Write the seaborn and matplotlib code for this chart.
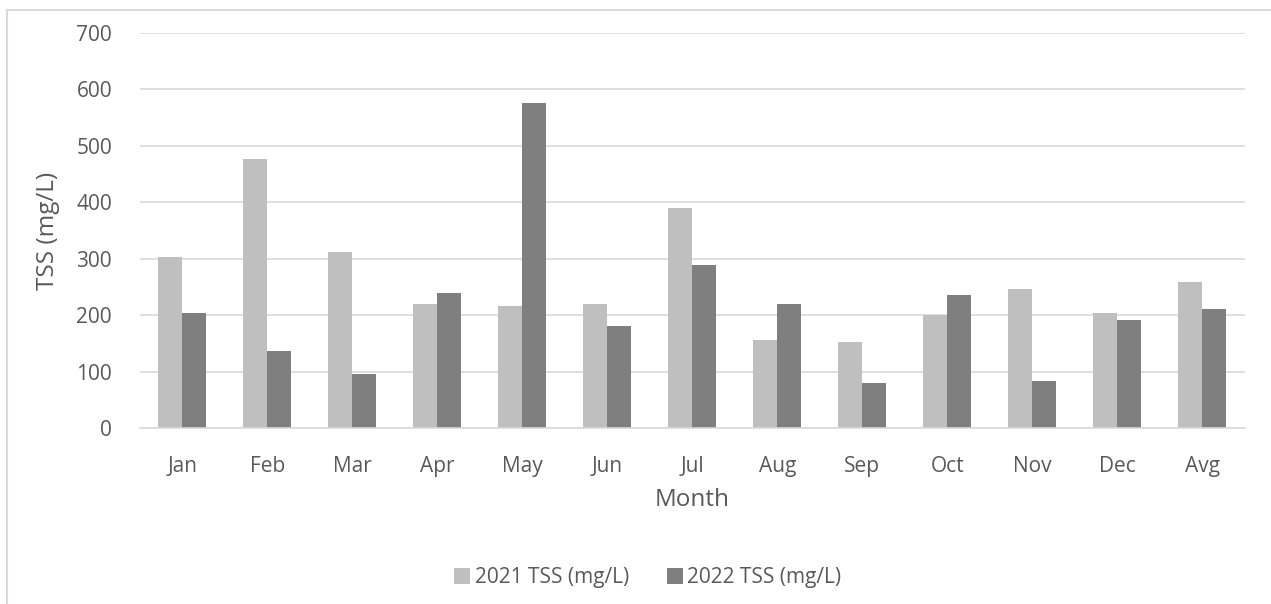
import pandas as pd
import seaborn as sns
import matplotlib.pyplot as plt
from matplotlib.lines import Line2D

# Monthly TSS values
months = ["Jan", "Feb", "Mar", "Apr", "May", "Jun", "Jul",
          "Aug", "Sep", "Oct", "Nov", "Dec", "Avg"]
tss_2021 = [303, 477, 312, 220, 217, 220, 390, 156, 152, 200, 247, 203, 258]
tss_2022 = [203, 137, 95, 240, 576, 181, 289, 220, 79, 235, 83, 191, 210]
series = ["2021 TSS (mg/L)", "2022 TSS (mg/L)"]
colors = ["#BFBFBF", "#7F7F7F"]

df = pd.DataFrame({"Month": months * 2,
                   "TSS": tss_2021 + tss_2022,
                   "Series": [series[0]] * len(months) + [series[1]] * len(months)})

sns.set_style("white")
plt.rcParams["font.family"] = ["Open Sans", "DejaVu Sans"]
txt = "#595959"

fig = plt.figure(figsize=(12.71, 6.04), dpi=100)
ax = fig.add_axes([0.110, 0.2914, 0.8695, 0.654])

sns.barplot(data=df, x="Month", y="TSS", hue="Series", palette=colors,
            width=0.565, gap=0, linewidth=0, saturation=1, ax=ax, legend=False)

ax.set_ylim(0, 700)
ax.set_xlim(-0.5, len(months) - 0.5)
ax.set_yticks(range(0, 701, 100))
ax.grid(axis="y", color="#D9D9D9", linewidth=1.2)
ax.set_axisbelow(True)
for s in ["top", "right", "left"]:
    ax.spines[s].set_visible(False)
ax.spines["bottom"].set_color("#D9D9D9")
ax.spines["bottom"].set_linewidth(1.2)
ax.tick_params(axis="both", length=0, labelsize=15, colors=txt)
ax.tick_params(axis="x", pad=20)
ax.tick_params(axis="y", pad=20)

ax.set_xlabel("Month", fontsize=17.5, color=txt, labelpad=8)
ax.set_ylabel("TSS (mg/L)", fontsize=17.5, color=txt, labelpad=12)

handles = [Line2D([], [], marker="s", linestyle="", markersize=12,
                  markerfacecolor=c, markeredgewidth=0) for c in colors]
fig.legend(handles, series, loc="center", bbox_to_anchor=(0.508, 0.044),
           ncol=2, frameon=False, fontsize=15, labelcolor=txt,
           handletextpad=0.0, columnspacing=1.6, handlelength=1.2)

# chart area border (partly outside the crop)
fig.add_artist(Line2D([7 / 1271, 7 / 1271], [0, 1 - 10 / 604],
                      color="#D9D9D9", linewidth=1.5, transform=fig.transFigure))
fig.add_artist(Line2D([7 / 1271, 1], [1 - 10 / 604, 1 - 10 / 604],
                      color="#D9D9D9", linewidth=1.5, transform=fig.transFigure))

plt.savefig("out.png", dpi=100)
